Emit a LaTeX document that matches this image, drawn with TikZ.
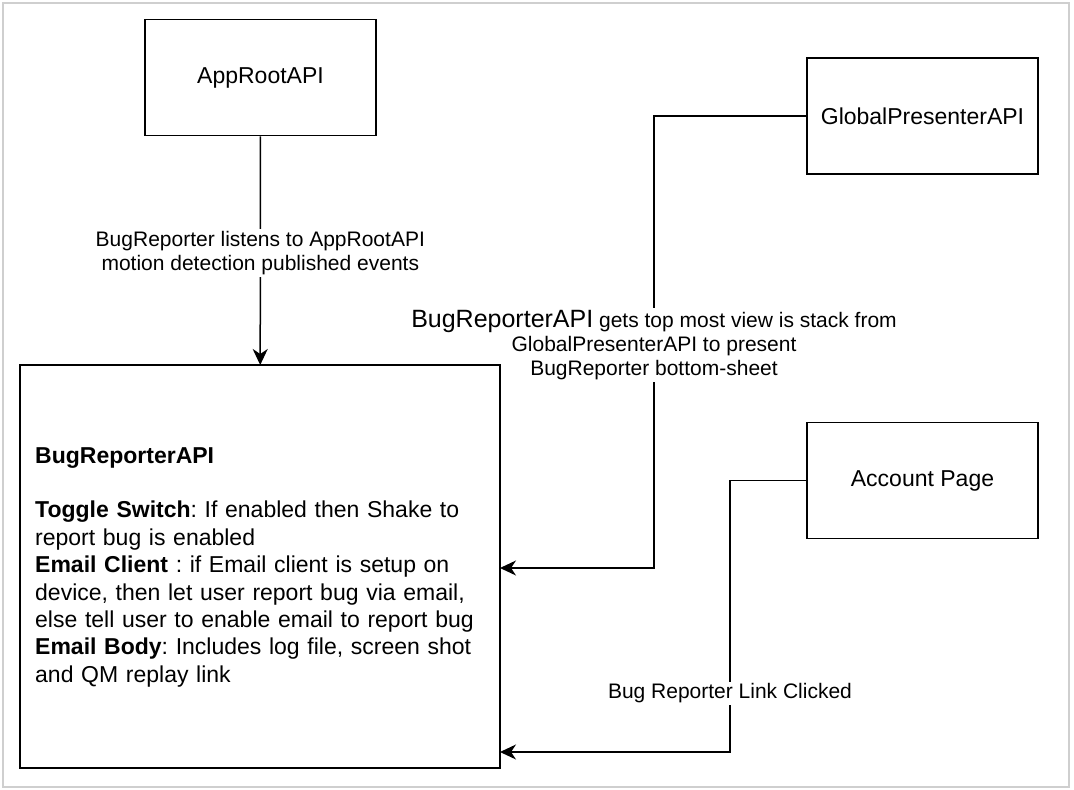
\documentclass[tikz,border=0pt]{standalone}
\usepackage{fontspec}
\setmainfont{Liberation Sans}
\usetikzlibrary{arrows.meta}
\frenchspacing

\begin{document}
\begin{tikzpicture}[x=1pt,y=-1pt,
    box/.style={draw,line width=1.5pt,minimum width=231pt,minimum height=116pt,
      inner sep=0pt,font=\fontsize{23}{27.4}\selectfont},
    conn/.style={line width=1.5pt,-{Stealth[length=16pt,width=15pt,inset=5pt]}},
    lbl/.style={fill=white,align=center,inner sep=2pt,font=\fontsize{21}{24}\selectfont}]
    \useasboundingbox (0,0) rectangle (1074,790);
    \draw[line width=2pt,color=black!19] (3,3) rectangle (1069,787);
    \node[box] (app) at (260.5,77.5) {AppRootAPI};
    \node[box] (gp) at (922.5,116) {GlobalPresenterAPI};
    \node[box] (acct) at (922.5,480.5) {Account Page};
    \node[box,draw=none,outer sep=0pt,minimum width=480pt,minimum height=403pt] (bug) at (260,566.5) {};
    \node[anchor=base west,inner sep=0pt,text width=450pt,align=left,
      font=\fontsize{23}{27.4}\selectfont] (bugtext) at (35,463)
      {\textbf{BugReporterAPI}\\[27.4pt]
       \textbf{Toggle Switch}: If enabled then Shake to\\
       report bug is enabled\\
       \textbf{Email Client} : if Email client is setup on\\
       device, then let user report bug via email,\\
       else tell user to enable email to report bug\\
       \textbf{Email Body}: Includes log file, screen shot\\
       and QM replay link};
    \coordinate (gpturn) at (654,116);
    \coordinate (gpin) at (500,568);
    \coordinate (acctturn) at (730,480.5);
    \coordinate (acctin) at (500,752);
    % edges
    \draw[conn] (app) -- node[lbl,pos=0.51] (applbl)
      {BugReporter listens to AppRootAPI\\motion detection published events} (bug);
    \draw[conn] (gp.west) -- (gpturn) |- node[lbl,pos=0.2533] (gplbl)
      {{\fontsize{25}{24}\selectfont BugReporterAPI} gets top most view is stack from\\
       GlobalPresenterAPI to present\\BugReporter bottom-sheet} (gpin);
    \draw[conn] (acct.west) -- (acctturn) |- node[lbl,pos=0.392] (acctlbl)
      {Bug Reporter Link Clicked} (acctin);
    % box outline last, over the label fill
    \draw[line width=1.5pt] (bug.north west) rectangle (bug.south east);
  \end{tikzpicture}
\end{document}
